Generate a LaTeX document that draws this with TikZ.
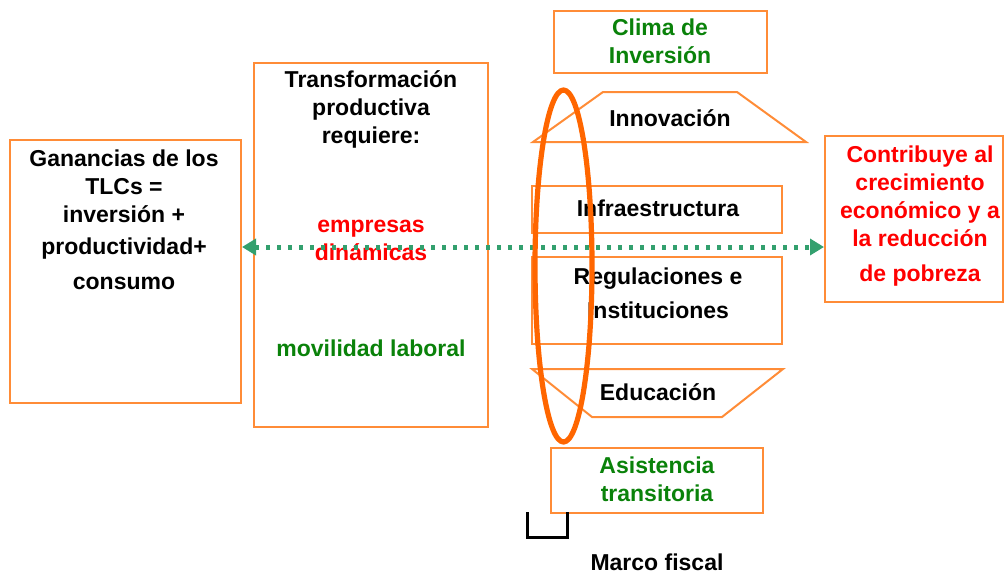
\documentclass[tikz,border=0pt]{standalone}
\usepackage{fontspec}
\setmainfont{Liberation Sans}
\usepackage{tikz}
\usetikzlibrary{arrows.meta,fit}
\definecolor{naranja}{RGB}{255,140,55}
\definecolor{naranjaosc}{RGB}{255,102,0}
\definecolor{verdeflecha}{RGB}{51,160,110}
\definecolor{verdetexto}{RGB}{10,130,10}
\definecolor{rojotexto}{RGB}{255,0,0}

\begin{document}
\begin{tikzpicture}[x=0.5pt, y=-0.5pt, font=\fontsize{11.5}{14}\selectfont\bfseries]
    \tikzstyle{caja} = [draw=naranja, line width=1pt, inner sep=0pt]
    \tikzstyle{texto} = [align=center, inner sep=0pt]
    \tikzstyle{flecha} = [verdeflecha, line width=2.5pt, dash pattern=on 2pt off 3.5pt,
        {Triangle[length=7pt,width=8pt]}-{Triangle[length=7pt,width=8pt]}]
    \useasboundingbox (0,0) rectangle (1005,573);

    % cajas
    \node[caja, fit={(10,140) (241,403)}] (ganancias) {};
    \node[caja, fit={(254,63) (488,427)}] (transformacion) {};
    \node[caja, fit={(554,11) (767,73)}] (clima) {};
    \node[caja, fit={(532,186) (782,233)}] (infra) {};
    \node[caja, fit={(532,257) (782,344)}] (regulaciones) {};
    \node[caja, fit={(551,448) (763,513)}] (asistencia) {};
    \node[caja, fit={(825,136) (1003,302)}] (contribuye) {};
    \draw[draw=naranja, line width=1pt] (533,142) -- (603,92) -- (737,92) -- (806,142) -- cycle;
    \draw[draw=naranja, line width=1pt] (532,369) -- (783,369) -- (722,417) -- (592,417) -- cycle;

    % textos
    \node[texto] (tganancias) at (124,220) {Ganancias de los\\ TLCs =\\ inversión +\\[2pt] productividad+\\[3.5pt] consumo};
    \node[texto] (ttransf) at (371,109) {Transformación\\ productiva\\ requiere:};
    \node[texto, rojotexto] (tempresas) at (371,240) {empresas\\ dinámicas};
    \node[texto, verdetexto] (tmovilidad) at (371,348) {movilidad laboral};
    \node[texto, verdetexto] (tclima) at (660,41) {Clima de\\ Inversión};
    \node[texto] (tinnovacion) at (670,118) {Innovación};
    \node[texto] (tinfra) at (658,208) {Infraestructura};
    \node[texto] (tregulaciones) at (658,293) {Regulaciones e\\[3pt] Instituciones};
    \node[texto] (teducacion) at (658,392) {Educación};
    \node[texto, verdetexto] (tasistencia) at (657,479) {Asistencia\\ transitoria};
    \node[texto] (tmarco) at (657,562) {Marco fiscal};
    \node[texto, rojotexto] (tcontribuye) at (920,216) {Contribuye al\\ crecimiento\\ económico y a\\ la reducción\\[3.5pt] de pobreza};

    % flecha y elipse
    \coordinate (eje) at (0,247);
    \draw[flecha] (ganancias.east |- eje) -- (contribuye.west |- eje);
    \draw[line width=1.5pt] (527,512) -- (527,537) -- (567,537) -- (567,512);
    \draw[naranjaosc, line width=2.6pt] (563.5,266) ellipse [x radius=28.5, y radius=176];
\end{tikzpicture}
\end{document}
